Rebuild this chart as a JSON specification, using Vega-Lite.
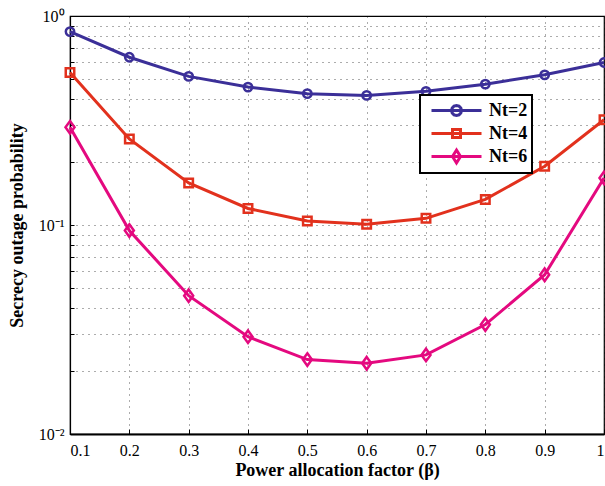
{
  "$schema": "https://vega.github.io/schema/vega-lite/v6.json",
  "autosize": "none",
  "width": 534,
  "height": 418,
  "padding": {"left": 70, "top": 16, "right": 1, "bottom": 52},
  "background": "white",
  "config": {
    "view": {"stroke": "black", "strokeWidth": 1.2},
    "axis": {
      "labelFont": "Liberation Serif",
      "titleFont": "Liberation Serif",
      "labelColor": "black",
      "titleColor": "black",
      "titleFontWeight": "bold",
      "titleFontSize": 18,
      "labelFontSize": 16,
      "domainColor": "black",
      "tickColor": "black",
      "gridColor": "#000000",
      "gridOpacity": 0.65,
      "gridDash": [1, 5],
      "gridWidth": 1,
      "labelOverlap": false
    },
    "legend": {
      "labelFont": "Liberation Serif",
      "labelFontSize": 18,
      "labelFontWeight": "bold",
      "labelColor": "black",
      "strokeWidth": 2
    }
  },
  "data": {
    "values": [
      {"beta": 0.1, "p": 0.842, "series": "Nt=2"},
      {"beta": 0.2, "p": 0.635, "series": "Nt=2"},
      {"beta": 0.3, "p": 0.514, "series": "Nt=2"},
      {"beta": 0.4, "p": 0.457, "series": "Nt=2"},
      {"beta": 0.5, "p": 0.425, "series": "Nt=2"},
      {"beta": 0.6, "p": 0.417, "series": "Nt=2"},
      {"beta": 0.7, "p": 0.436, "series": "Nt=2"},
      {"beta": 0.8, "p": 0.472, "series": "Nt=2"},
      {"beta": 0.9, "p": 0.523, "series": "Nt=2"},
      {"beta": 1.0, "p": 0.599, "series": "Nt=2"},
      {"beta": 0.1, "p": 0.537, "series": "Nt=4"},
      {"beta": 0.2, "p": 0.258, "series": "Nt=4"},
      {"beta": 0.3, "p": 0.159, "series": "Nt=4"},
      {"beta": 0.4, "p": 0.120, "series": "Nt=4"},
      {"beta": 0.5, "p": 0.1045, "series": "Nt=4"},
      {"beta": 0.6, "p": 0.1008, "series": "Nt=4"},
      {"beta": 0.7, "p": 0.1076, "series": "Nt=4"},
      {"beta": 0.8, "p": 0.1326, "series": "Nt=4"},
      {"beta": 0.9, "p": 0.191, "series": "Nt=4"},
      {"beta": 1.0, "p": 0.319, "series": "Nt=4"},
      {"beta": 0.1, "p": 0.2934, "series": "Nt=6"},
      {"beta": 0.2, "p": 0.0941, "series": "Nt=6"},
      {"beta": 0.3, "p": 0.0459, "series": "Nt=6"},
      {"beta": 0.4, "p": 0.0292, "series": "Nt=6"},
      {"beta": 0.5, "p": 0.0227, "series": "Nt=6"},
      {"beta": 0.6, "p": 0.0218, "series": "Nt=6"},
      {"beta": 0.7, "p": 0.0239, "series": "Nt=6"},
      {"beta": 0.8, "p": 0.0334, "series": "Nt=6"},
      {"beta": 0.9, "p": 0.0578, "series": "Nt=6"},
      {"beta": 1.0, "p": 0.168, "series": "Nt=6"}
    ]
  },
  "encoding": {
    "x": {
      "field": "beta",
      "type": "quantitative",
      "scale": {"domain": [0.1, 1], "nice": false, "zero": false},
      "axis": {
        "title": "Power allocation factor (β)",
        "values": [0.1, 0.2, 0.3, 0.4, 0.5, 0.6, 0.7, 0.8, 0.9, 1],
        "format": ".1~f",
        "domainWidth": 2,
        "tickSize": -5,
        "labelPadding": 13,
        "titlePadding": 3,
        "grid": true
      }
    },
    "y": {
      "field": "p",
      "type": "quantitative",
      "scale": {"type": "log", "domain": [0.01, 1], "nice": false},
      "axis": {
        "title": "Secrecy outage probability",
        "values": [0.01, 0.02, 0.03, 0.04, 0.05, 0.06, 0.07, 0.08, 0.09, 0.1, 0.2, 0.3, 0.4, 0.5, 0.6, 0.7, 0.8, 0.9, 1],
        "labelExpr": "datum.value == 1 ? '10⁰' : datum.value == 0.1 ? '10⁻¹' : datum.value == 0.01 ? '10⁻²' : ''",
        "domainWidth": 1.2,
        "tickSize": -4,
        "labelPadding": 10,
        "titlePadding": 12,
        "grid": true
      }
    }
  },
  "layer": [
    {
      "transform": [{"filter": "datum.series == 'Nt=2'"}],
      "mark": {"type": "line", "strokeWidth": 3, "color": "#3b2f98"},
      "encoding": {}
    },
    {
      "transform": [{"filter": "datum.series == 'Nt=2'"}],
      "mark": {"type": "point", "shape": "circle", "size": 70, "filled": false, "strokeWidth": 2.5, "color": "#3b2f98", "opacity": 1}
    },
    {
      "transform": [{"filter": "datum.series == 'Nt=4'"}],
      "mark": {"type": "line", "strokeWidth": 3, "color": "#e2311d"},
      "encoding": {}
    },
    {
      "transform": [{"filter": "datum.series == 'Nt=4'"}],
      "mark": {"type": "point", "shape": "square", "size": 72, "filled": false, "strokeWidth": 2.5, "color": "#e2311d", "opacity": 1}
    },
    {
      "transform": [{"filter": "datum.series == 'Nt=6'"}],
      "mark": {"type": "line", "strokeWidth": 3, "color": "#e4097f"},
      "encoding": {}
    },
    {
      "transform": [{"filter": "datum.series == 'Nt=6'"}],
      "mark": {"type": "point", "shape": "M0,-1.25L0.9,0L0,1.25L-0.9,0Z", "size": 100, "filled": false, "strokeWidth": 2.5, "color": "#e4097f", "opacity": 1}
    },
    {
      "transform": [{"filter": "datum.p < 0"}],
      "mark": {"type": "point", "filled": false, "size": 400, "strokeWidth": 3, "opacity": 1},
      "encoding": {
        "color": {
          "field": "series",
          "type": "nominal",
          "scale": {"domain": ["Nt=2", "Nt=4", "Nt=6"], "range": ["#3b2f98", "#e2311d", "#e4097f"]},
          "legend": {
            "title": null,
            "orient": "none",
            "legendX": 350,
            "legendY": 79,
            "padding": 4,
            "rowPadding": 0,
            "labelOffset": 42,
            "symbolSize": 400,
            "symbolStrokeWidth": 3,
            "symbolOpacity": 1,
            "strokeColor": "black",
            "fillColor": "white",
            "cornerRadius": 0
          }
        },
        "shape": {
          "field": "series",
          "type": "nominal",
          "scale": {
            "domain": ["Nt=2", "Nt=4", "Nt=6"],
            "range": [
              "M-0.4,0H4.6M2.6,0L2.533,0.25L2.35,0.433L2.1,0.5L1.85,0.433L1.667,0.25L1.6,0L1.667,-0.25L1.85,-0.433L2.1,-0.5L2.35,-0.433L2.533,-0.25Z",
              "M-0.4,0H4.6M1.7,-0.4H2.5V0.4H1.7Z",
              "M-0.4,0H4.6M2.1,-0.65L2.5,0L2.1,0.65L1.7,0Z"
            ]
          },
          "legend": {
            "title": null,
            "orient": "none",
            "legendX": 350,
            "legendY": 79,
            "padding": 4,
            "rowPadding": 0,
            "labelOffset": 42,
            "symbolSize": 400,
            "symbolStrokeWidth": 3,
            "symbolOpacity": 1,
            "strokeColor": "black",
            "fillColor": "white",
            "cornerRadius": 0
          }
        }
      }
    }
  ]
}
